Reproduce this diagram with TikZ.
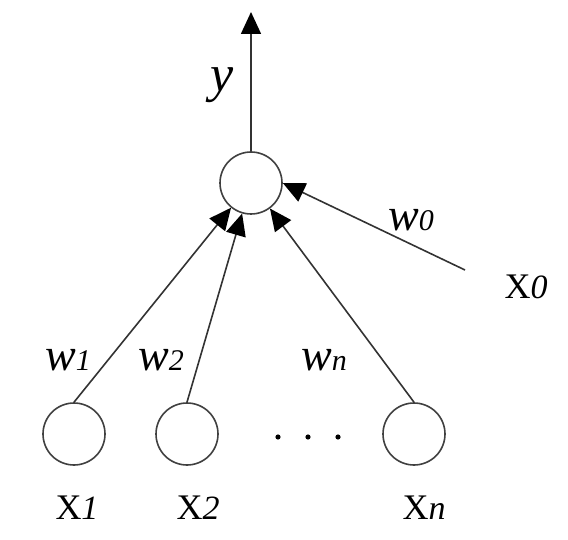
\documentclass[tikz,border=0pt]{standalone}
\usepackage{fontspec}
\setmainfont{Liberation Serif}
\usetikzlibrary{arrows.meta}
\begin{document}
\begin{tikzpicture}[x=1pt,y=-1pt,
  neuron/.style={circle,draw=black!75,line width=1.6pt,minimum size=62pt,inner sep=0pt},
  conn/.style={draw=black!80,line width=1.6pt,-{Triangle[length=22pt,width=20pt,fill=black,color=black]}},
  lbl/.style={inner sep=0pt,text=black}]
\useasboundingbox (0,0) rectangle (568,540);
\newcommand{\wlab}[1]{{\fontsize{46}{46}\selectfont\itshape w}{\fontsize{30}{30}\selectfont\itshape #1}}
\newcommand{\xlab}[1]{{\fontsize{36}{36}\selectfont X}{\fontsize{34}{34}\selectfont\itshape #1}}
\node[neuron] (top) at (251,183) {};
\node[neuron] (x1) at (74,434) {};
\node[neuron] (x2) at (187,434) {};
\node[neuron] (xn) at (414,434) {};
\coordinate (out) at (251,12);
\coordinate (x0) at (465,270);
\draw[conn] (top.north) -- (out);
\draw[conn] (x1.north) -- (top);
\draw[conn] (x2.north) -- (top);
\draw[conn] (xn.north) -- (top);
\draw[conn] (x0) -- (top.east);
\node[lbl] (ylab) at (222,85) {\fontsize{52}{52}\selectfont\itshape y};
\node[lbl] (w1) at (68,360) {\wlab{1}};
\node[lbl] (w2) at (161,360) {\wlab{2}};
\node[lbl] (wn) at (324,360) {\wlab{n}};
\node[lbl] (w0) at (411,220) {\wlab{0}};
\node[lbl] (lx0) at (526,287) {\xlab{0}};
\node[lbl] (lx1) at (77,508) {\xlab{1}};
\node[lbl] (lx2) at (198,508) {\xlab{2}};
\node[lbl] (lxn) at (424,508) {\xlab{n}};
\foreach \i/\xx in {1/278,2/308,3/338} \fill[black] (\xx,437) circle (2.6pt) node (d\i) {};
\end{tikzpicture}
\end{document}
